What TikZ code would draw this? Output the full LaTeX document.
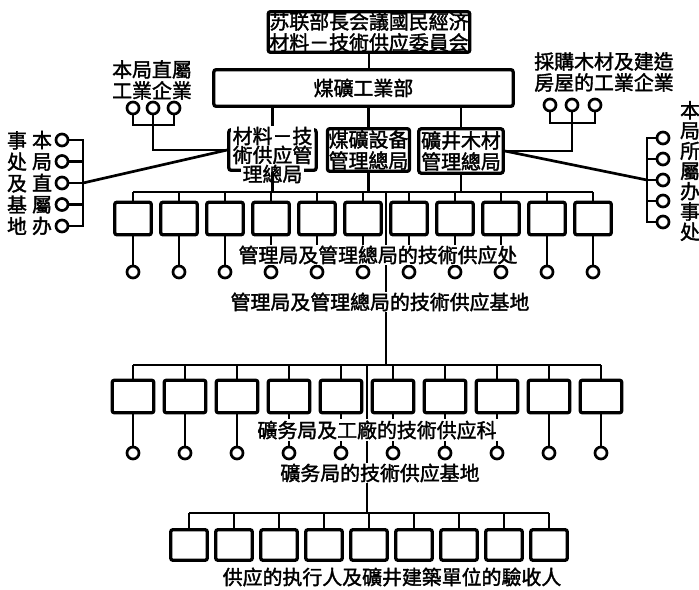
\documentclass[tikz,border=0pt]{standalone}
\usepackage{fontspec}
\newfontfamily\cjk{Noto Sans CJK TC}[FakeBold=1.8]
\begin{document}
\begin{tikzpicture}[x=0.03cm, y=-0.03cm,
		box/.style={draw, line width=2.8pt, rounded corners=2pt, inner sep=0pt},
		unitA/.style={box, minimum width=1.1cm, minimum height=0.98cm},
		unitB/.style={box, minimum width=1.25cm, minimum height=0.98cm},
		unitC/.style={box, minimum width=1.1cm, minimum height=0.92cm},
		ring/.style={circle, draw, line width=2.3pt, minimum size=0.36cm, inner sep=0pt},
		link/.style={line width=2.3pt},
		txt/.style={font=\cjk\fontsize{17}{18}\selectfont, align=center, inner sep=0pt},
		vtxt/.style={font=\cjk\fontsize{17}{18.3}\selectfont, align=center, inner sep=0pt},
		cut/.style={txt, fill=white, inner sep=1pt}]
		\useasboundingbox (0,0) rectangle (699,590);
		
		% Committee and ministry
		\node[box, txt, minimum width=6.05cm, minimum height=1.22cm] (soviet) at (369,32) {苏联部長会議國民經济\\材料－技術供应委員会};
		\node[box, txt, minimum width=8.98cm, minimum height=1.1cm] (coal) at (363.5,88) {煤礦工業部};
		\draw[link] (soviet.south) -- (soviet.south |- coal.north);
		
		% Main boards
		\node[box, minimum width=2.62cm, minimum height=1.22cm] (mat) at (272.5,150) {};
		\node[box, txt, minimum width=2.46cm, minimum height=1.28cm] (equip) at (368.5,150) {煤礦設备\\管理總局};
		\node[box, txt, minimum width=2.53cm, minimum height=1.33cm] (wood) at (461,151) {礦井木材\\管理總局};
		\draw[link] (coal.south -| mat.north) -- (mat.north);
		\draw[link] (coal.south -| equip.north) -- (equip.north);
		\draw[link] (coal.south -| wood.north) -- (wood.north);
		\node[cut] (matA) at (272.5,136) {材料－技};
		\node[txt] (matB) at (272.5,155) {術供应管};
		\node[cut] (matC) at (272.5,174) {理總局};
		
		% Left: own works
		\node[txt] (ownL) at (152,80) {本局直屬\\工業企業};
		\node[ring] (a1) at (133,108) {};
		\node[ring] (a2) at (153,108) {};
		\node[ring] (a3) at (174,108) {};
		\coordinate (jl) at (153,125);
		\draw[link] (a1) |- (jl) -| (a3);
		\draw[link] (a2) |- (mat.west);
		
		% Left: offices and bases
		\foreach \i/\y in {1/140,2/161.5,3/183,4/204.5,5/226}
			\node[ring] (c\i) at (62,\y) {};
		\coordinate (lbar) at (83,183);
		\draw[link] (c1) -- (c1 -| lbar) -- (c5 -| lbar) -- (c5);
		\foreach \i in {2,3,4}
			\draw[link] (c\i) -- (c\i -| lbar);
		\draw[link] (lbar) -- (mat.west);
		\node[vtxt] (lcolA) at (17,183) {事\\处\\及\\基\\地};
		\node[vtxt] (lcolB) at (42,183) {本\\局\\直\\屬\\办};
		
		% Right: timber works
		\node[txt] (ownR) at (604,72) {採購木材及建造\\房屋的工業企業};
		\node[ring] (b1) at (550,105) {};
		\node[ring] (b2) at (572,105) {};
		\node[ring] (b3) at (595,105) {};
		\coordinate (jr) at (572,123);
		\draw[link] (b1) |- (jr) -| (b3);
		\draw[link] (b2) |- (wood.east);
		
		% Right: offices
		\foreach \i/\y in {1/138,2/159,3/180,4/201,5/222}
			\node[ring] (d\i) at (663,\y) {};
		\coordinate (rbar) at (647,180);
		\draw[link] (d1) -- (d1 -| rbar) -- (d5 -| rbar) -- (d5);
		\foreach \i in {2,3,4}
			\draw[link] (d\i) -- (d\i -| rbar);
		\draw[link] (rbar) -- (wood.east);
		\node[font=\cjk\fontsize{17}{17.3}\selectfont, align=center, inner sep=0pt] (rcol) at (690,171) {本\\局\\所\\屬\\办\\事\\处};
		
		% Level 2
		\coordinate (busA) at (0,192);
		\foreach \i in {0,...,10} {
			\node[unitA] (u\i) at (133+46*\i,218.5) {};
			\node[ring] (r\i) at (133+46*\i,272) {};
			\draw[link] (u\i.north) -- (u\i.north |- busA);
			\draw[link] (u\i) -- (r\i);
		}
		\draw[link] (u0.north |- busA) -- (u10.north |- busA);
		\draw[link] (mat.south) -- (mat.south |- busA);
		\draw[link] (equip.south) -- (equip.south |- busA);
		\draw[link] (wood.south) -- (wood.south |- busA);
		\coordinate (spA) at (386,192);
		\coordinate (spB) at (386,365);
		\draw[link] (spA) -- (spB);
		\node[cut] (procA) at (378,255) {管理局及管理總局的技術供应处};
		\node[cut] (baseA) at (380,302) {管理局及管理總局的技術供应基地};
		
		% Level 3
		\coordinate (busB) at (0,365);
		\foreach \i in {0,...,9} {
			\node[unitB] (v\i) at (133+52*\i,396.5) {};
			\node[ring] (s\i) at (133+52*\i,453) {};
			\draw[link] (v\i.north) -- (v\i.north |- busB);
			\draw[link] (v\i) -- (s\i);
		}
		\draw[link] (v0.north |- busB) -- (v9.north |- busB);
		\coordinate (spC) at (367,365);
		\coordinate (spD) at (367,513);
		\draw[link] (spC) -- (spD);
		\node[cut] (procB) at (377,430) {礦务局及工廠的技術供应科};
		\node[cut] (baseB) at (380,473) {礦务局的技術供应基地};
		
		% Level 4
		\coordinate (busC) at (0,513);
		\foreach \i in {0,...,8} {
			\node[unitC] (w\i) at (189+45*\i,545) {};
			\draw[link] (w\i.north) -- (w\i.north |- busC);
		}
		\draw[link] (w0.north |- busC) -- (w8.north |- busC);
		\node[txt] (recv) at (392,577) {供应的执行人及礦井建築單位的驗收人};
	\end{tikzpicture}
\end{document}
